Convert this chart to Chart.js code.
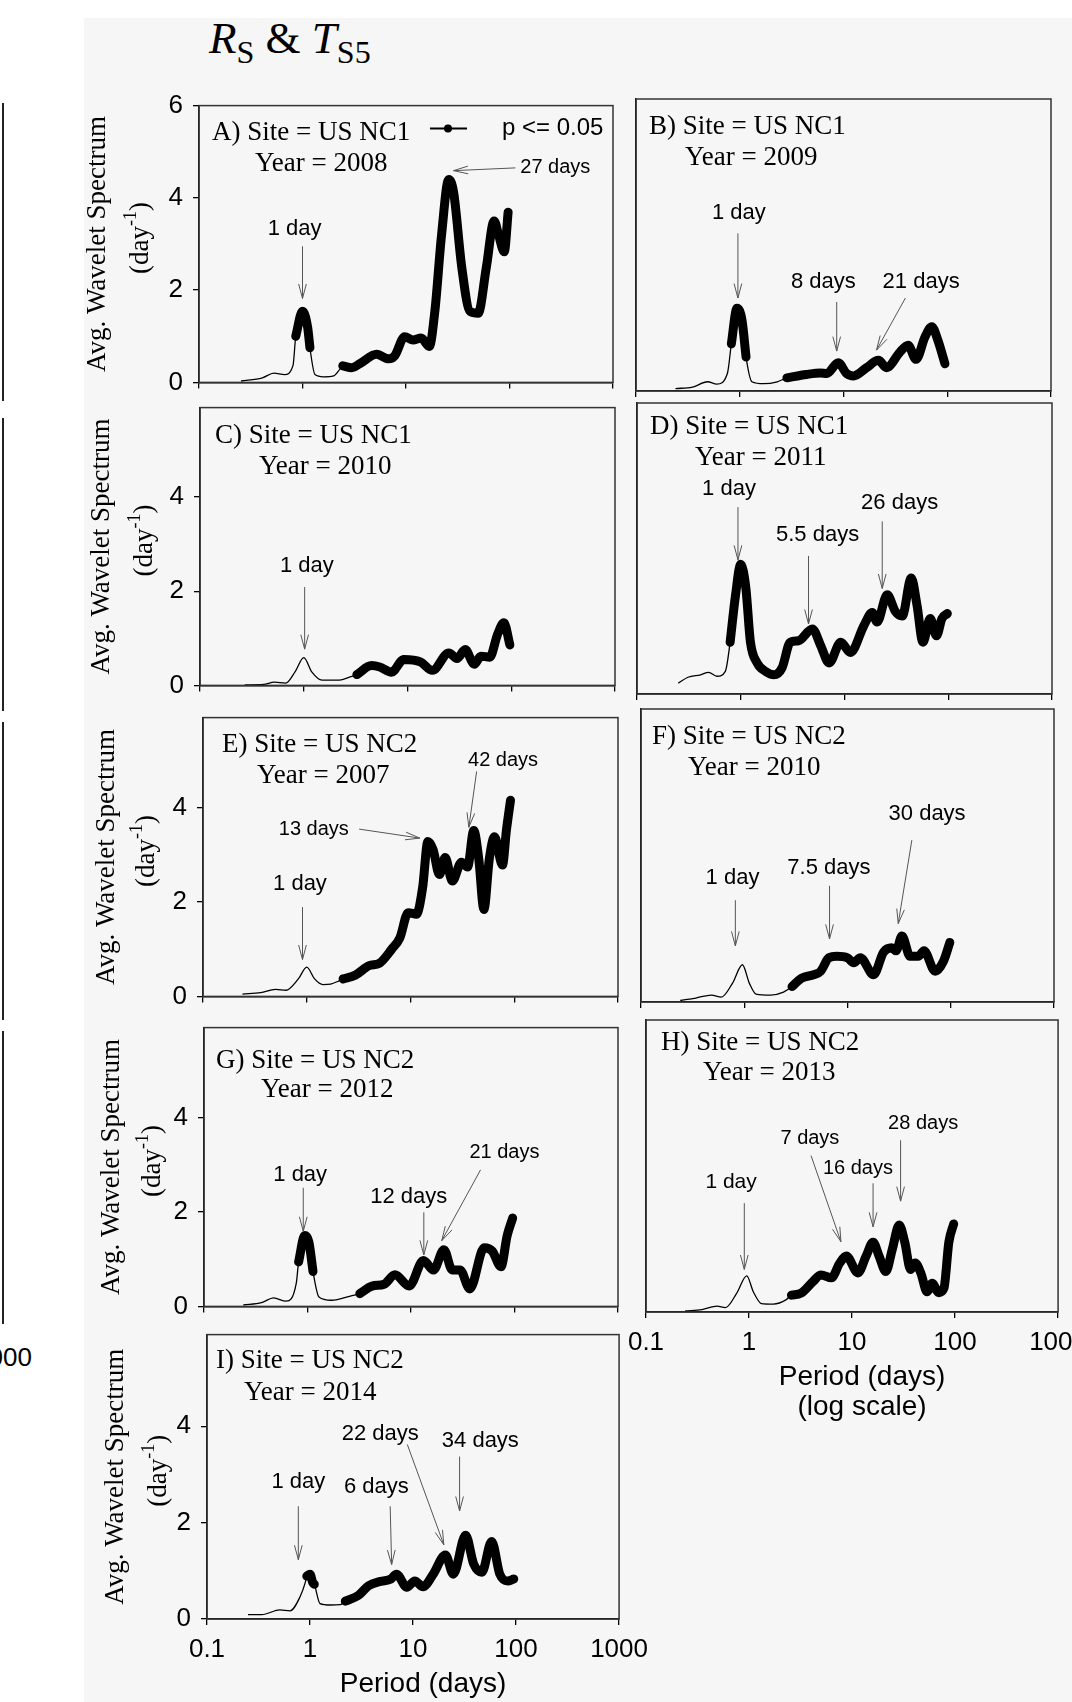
<!DOCTYPE html>
<html>
<head>
<meta charset="utf-8">
<script src="https://cdn.jsdelivr.net/npm/chart.js@4.4.0/dist/chart.umd.min.js"></script>
<style>
  body { margin: 0; width: 1072px; height: 1702px; overflow: hidden; position: relative; background: #fff; }
  #bg { position: absolute; left: 84px; top: 18px; right: 0; bottom: 0; background: #f6f6f6; }
  canvas { position: absolute; }
  .edge { position: absolute; left: 2px; width: 1.5px; background: #222; }
  #title { position: absolute; left: 209px; top: 16px; font: 45px/45px "Liberation Serif", "Times New Roman", serif; white-space: nowrap; color: #000; }
  #title .sub { font-size: 32px; position: relative; top: 10px; }
  #cut { position: absolute; left: -26px; top: 1342px; font: 26px "Liberation Sans", Arial, sans-serif; color: #000; }
</style>
</head>
<body>
<div id="bg"></div>
<div class="edge" style="top:103px;height:298px"></div>
<div class="edge" style="top:418px;height:293px"></div>
<div class="edge" style="top:722px;height:298px"></div>
<div class="edge" style="top:1031px;height:293px"></div>
<div id="cut">1000</div>
<div id="title"><i>R</i><span class="sub">S</span> &amp; <i>T</i><span class="sub">S5</span></div>
<script>
// shared ticks
const xTicks = [0.1, 1, 10, 100, 1000];
const yTicks = [0, 2, 4, 6];

// A) US NC1, 2008
const periodA = [0.255, 0.41, 0.53, 0.67, 0.81, 0.86, 1.0, 1.12, 1.18, 1.32, 1.59, 2.0, 2.32, 2.45, 3.0, 3.6, 5.2, 6.8, 7.8, 9.7, 11.7, 14, 16.8, 19, 22, 25.9, 28.8, 34.6, 41.5, 49.8, 59.7, 71, 79, 89, 97];
const powerA = [0.03, 0.1, 0.2, 0.17, 0.37, 1.0, 1.54, 1.2, 0.75, 0.17, 0.12, 0.14, 0.3, 0.36, 0.32, 0.41, 0.61, 0.51, 0.58, 0.99, 0.92, 0.96, 0.78, 1.54, 3.17, 4.4, 4.13, 2.49, 1.54, 1.5, 2.49, 3.5, 3.17, 2.83, 3.69];
const sigA = [0, 0, 0, 0, 0, 1, 1, 1, 1, 0, 0, 0, 0, 1, 1, 1, 1, 1, 1, 1, 1, 1, 1, 1, 1, 1, 1, 1, 1, 1, 1, 1, 1, 1, 1];

// B) US NC1, 2009
const periodB = [0.24, 0.35, 0.49, 0.6, 0.76, 0.83, 0.94, 1.05, 1.15, 1.31, 1.7, 2.3, 2.85, 4.4, 6.0, 6.9, 8.9, 10.7, 12.5, 16.7, 21.7, 26, 35, 42, 50, 61, 71, 81, 95];
const powerB = [0.05, 0.08, 0.19, 0.14, 0.36, 0.97, 1.7, 1.46, 0.7, 0.19, 0.15, 0.19, 0.27, 0.34, 0.37, 0.36, 0.58, 0.36, 0.31, 0.48, 0.63, 0.48, 0.8, 0.94, 0.65, 1.11, 1.32, 1.05, 0.56];
const sigB = [0, 0, 0, 0, 0, 1, 1, 1, 1, 0, 0, 0, 1, 1, 1, 1, 1, 1, 1, 1, 1, 1, 1, 1, 1, 1, 1, 1, 1];

// C) US NC1, 2010
const periodC = [0.27, 0.41, 0.52, 0.67, 0.83, 1.0, 1.2, 1.5, 2.2, 2.8, 3.25, 4.5, 5.4, 7.0, 9.2, 13.3, 17.4, 25, 30, 36, 44, 51, 62, 74, 85, 97];
const powerC = [0.01, 0.02, 0.07, 0.05, 0.3, 0.59, 0.28, 0.11, 0.11, 0.18, 0.23, 0.42, 0.39, 0.28, 0.55, 0.5, 0.32, 0.69, 0.57, 0.76, 0.45, 0.62, 0.6, 1.09, 1.33, 0.86];
const sigC = [0, 0, 0, 0, 0, 0, 0, 0, 0, 0, 1, 1, 1, 1, 1, 1, 1, 1, 1, 1, 1, 1, 1, 1, 1, 1];

// D) US NC1, 2011
const periodD = [0.25, 0.31, 0.41, 0.49, 0.59, 0.71, 0.79, 0.89, 1.0, 1.12, 1.24, 1.44, 1.73, 2.09, 2.5, 3.0, 3.6, 4.9, 5.9, 7.1, 9.2, 11.4, 15.4, 18.5, 20.6, 25.8, 31, 36, 44, 50, 57, 67, 77, 87, 98];
const powerD = [0.22, 0.34, 0.39, 0.44, 0.36, 0.46, 1.05, 2.0, 2.63, 2.15, 1.05, 0.63, 0.46, 0.39, 0.53, 1.05, 1.08, 1.32, 0.98, 0.63, 1.05, 0.84, 1.39, 1.65, 1.46, 2.01, 1.67, 1.58, 2.35, 1.8, 1.05, 1.53, 1.18, 1.53, 1.63];
const sigD = [0, 0, 0, 0, 0, 0, 1, 1, 1, 1, 1, 1, 1, 1, 1, 1, 1, 1, 1, 1, 1, 1, 1, 1, 1, 1, 1, 1, 1, 1, 1, 1, 1, 1, 1];

// E) US NC2, 2007
const periodE = [0.24, 0.36, 0.5, 0.63, 0.83, 1.0, 1.19, 1.43, 1.7, 2.05, 2.24, 2.94, 4.0, 5.0, 6.6, 7.9, 9.5, 11.4, 13.1, 14.7, 16.5, 19, 21.6, 25.3, 31, 35.5, 40.7, 45.5, 51, 57.5, 64.5, 77, 84, 92];
const powerE = [0.05, 0.08, 0.15, 0.13, 0.37, 0.62, 0.37, 0.25, 0.26, 0.33, 0.37, 0.45, 0.65, 0.7, 1.0, 1.24, 1.77, 1.74, 2.31, 3.28, 3.11, 2.58, 2.94, 2.44, 2.84, 2.74, 3.51, 2.91, 1.84, 2.91, 3.38, 2.78, 3.51, 4.15];
const sigE = [0, 0, 0, 0, 0, 0, 0, 0, 0, 0, 1, 1, 1, 1, 1, 1, 1, 1, 1, 1, 1, 1, 1, 1, 1, 1, 1, 1, 1, 1, 1, 1, 1, 1];

// F) US NC2, 2010
const periodF = [0.24, 0.34, 0.48, 0.6, 0.77, 0.96, 1.12, 1.3, 1.8, 2.4, 2.9, 3.6, 4.7, 5.5, 6.6, 7.9, 10, 11.5, 13.3, 17.9, 22.3, 26.8, 29.5, 33.7, 40.4, 48.6, 55, 70.6, 85, 98];
const powerF = [0.03, 0.08, 0.14, 0.1, 0.38, 0.75, 0.38, 0.16, 0.14, 0.2, 0.31, 0.48, 0.55, 0.62, 0.89, 0.92, 0.89, 0.79, 0.89, 0.55, 1.0, 1.09, 1.03, 1.33, 0.92, 0.92, 1.03, 0.62, 0.82, 1.2];
const sigF = [0, 0, 0, 0, 0, 0, 0, 0, 0, 0, 1, 1, 1, 1, 1, 1, 1, 1, 1, 1, 1, 1, 1, 1, 1, 1, 1, 1, 1, 1];

// G) US NC2, 2012
const periodG = [0.24, 0.36, 0.47, 0.62, 0.78, 0.82, 0.94, 1.03, 1.13, 1.29, 1.7, 2.7, 3.2, 4.2, 5.5, 7.0, 9.6, 13.2, 16.5, 20.8, 25, 29.8, 37, 51, 61, 74, 85, 96];
const powerG = [0.03, 0.08, 0.18, 0.11, 0.5, 0.94, 1.5, 1.37, 0.74, 0.2, 0.13, 0.23, 0.27, 0.43, 0.47, 0.67, 0.43, 0.97, 0.77, 1.2, 0.77, 0.77, 0.37, 1.24, 1.17, 0.84, 1.5, 1.87];
const sigG = [0, 0, 0, 0, 0, 1, 1, 1, 1, 0, 0, 0, 1, 1, 1, 1, 1, 1, 1, 1, 1, 1, 1, 1, 1, 1, 1, 1];

// H) US NC2, 2013
const periodH = [0.24, 0.35, 0.49, 0.59, 0.76, 0.95, 1.1, 1.32, 1.72, 2.3, 2.58, 3.2, 4.2, 5.0, 6.3, 7.6, 8.8, 11.4, 13.7, 16, 18.3, 21.3, 24.6, 28.7, 32.5, 37, 41, 46.5, 53.5, 60, 69.5, 78, 87, 97];
const powerH = [0.02, 0.05, 0.12, 0.09, 0.38, 0.73, 0.41, 0.17, 0.16, 0.25, 0.34, 0.38, 0.62, 0.75, 0.69, 0.99, 1.13, 0.79, 1.13, 1.41, 1.13, 0.82, 1.27, 1.76, 1.41, 0.86, 0.99, 0.79, 0.41, 0.58, 0.39, 0.48, 1.41, 1.78];
const sigH = [0, 0, 0, 0, 0, 0, 0, 0, 0, 0, 1, 1, 1, 1, 1, 1, 1, 1, 1, 1, 1, 1, 1, 1, 1, 1, 1, 1, 1, 1, 1, 1, 1, 1];

// I) US NC2, 2014
const periodI = [0.25, 0.34, 0.51, 0.64, 0.8, 0.9, 0.93, 1.0, 1.06, 1.1, 1.25, 1.57, 1.97, 2.2, 2.95, 3.7, 4.85, 6.1, 6.9, 8.7, 10.4, 12.5, 15.7, 20.6, 24.6, 32.4, 38.8, 46.5, 58, 69.5, 83, 95];
const powerI = [0.09, 0.09, 0.19, 0.17, 0.46, 0.76, 0.89, 0.93, 0.76, 0.72, 0.32, 0.29, 0.3, 0.37, 0.49, 0.69, 0.78, 0.83, 0.93, 0.66, 0.79, 0.67, 0.93, 1.33, 0.93, 1.74, 1.14, 0.97, 1.61, 0.93, 0.79, 0.83];
const sigI = [0, 0, 0, 0, 0, 0, 1, 1, 1, 1, 0, 0, 0, 1, 1, 1, 1, 1, 1, 1, 1, 1, 1, 1, 1, 1, 1, 1, 1, 1, 1, 1];

// peak labels: label centre and arrow tail/head, in (period, spectrum) units
const notesA = [
  { text: '1 day', at: [0.84, 3.33], from: [1.0, 2.95], to: [1.0, 1.82], size: 22 },
  { text: '27 days', at: [277, 4.65], from: [114, 4.65], to: [28.8, 4.59], size: 20 }
];
const notesB = [
  { text: '1 day', at: [0.98, 3.66], from: [0.96, 3.24], to: [0.96, 1.91], size: 22 },
  { text: '8 days', at: [6.4, 2.24], from: [8.6, 1.83], to: [8.6, 0.82], size: 22 },
  { text: '21 days', at: [56, 2.24], from: [39.5, 1.91], to: [20.8, 0.84], size: 22 }
];
const notesC = [
  { text: '1 day', at: [1.07, 2.54], from: [1.02, 2.09], to: [1.02, 0.77], size: 22 }
];
const notesD = [
  { text: '1 day', at: [0.77, 4.16], from: [0.94, 3.79], to: [0.94, 2.72], size: 22 },
  { text: '5.5 days', at: [5.5, 3.22], from: [4.5, 2.8], to: [4.5, 1.42], size: 22 },
  { text: '26 days', at: [34, 3.88], from: [23.1, 3.5], to: [23.1, 2.14], size: 22 }
];
const notesE = [
  { text: '1 day', at: [0.86, 2.39], from: [0.91, 1.89], to: [0.91, 0.78], size: 22 },
  { text: '13 days', at: [1.17, 3.54], from: [3.2, 3.54], to: [12.3, 3.35], size: 20 },
  { text: '42 days', at: [78, 5.0], from: [43.4, 4.76], to: [36.5, 3.58], size: 20 }
];
const notesF = [
  { text: '1 day', at: [0.77, 2.5], from: [0.82, 2.05], to: [0.82, 1.13], size: 22 },
  { text: '7.5 days', at: [6.6, 2.7], from: [6.7, 2.34], to: [6.7, 1.27], size: 22 },
  { text: '30 days', at: [59, 3.79], from: [42, 3.26], to: [31, 1.58], size: 22 }
];
const notesG = [
  { text: '1 day', at: [0.85, 2.79], from: [0.91, 2.51], to: [0.91, 1.59], size: 22 },
  { text: '12 days', at: [9.5, 2.31], from: [13.3, 1.99], to: [13.3, 1.09], size: 22 },
  { text: '21 days', at: [80, 3.26], from: [47, 2.89], to: [19.8, 1.39], size: 20 }
];
const notesH = [
  { text: '1 day', at: [0.67, 2.63], from: [0.9, 2.2], to: [0.9, 0.86], size: 21 },
  { text: '7 days', at: [3.9, 3.51], from: [4.0, 3.16], to: [7.8, 1.42], size: 20 },
  { text: '16 days', at: [11.4, 2.9], from: [16, 2.6], to: [16, 1.72], size: 20 },
  { text: '28 days', at: [49, 3.8], from: [29.6, 3.47], to: [29.6, 2.24], size: 20 }
];
const notesI = [
  { text: '1 day', at: [0.77, 2.85], from: [0.77, 2.34], to: [0.77, 1.23], size: 22 },
  { text: '6 days', at: [4.4, 2.75], from: [6.0, 2.34], to: [6.2, 1.13], size: 22 },
  { text: '22 days', at: [4.8, 3.84], from: [8.8, 3.62], to: [19.9, 1.54], size: 22 },
  { text: '34 days', at: [45, 3.7], from: [28.3, 3.37], to: [28.3, 2.24], size: 22 }
];

const SERIF = "'Liberation Serif', 'Times New Roman', serif";
const SANS = "'Liberation Sans', Arial, sans-serif";

Chart.defaults.font.family = SANS;
Chart.defaults.font.size = 26;
Chart.defaults.color = '#000';

// plot rectangles [left, top, right, bottom] in page pixels
const panels = [
  { rect: [199, 98, 613, 388], yMax: 6, col: 0, site: 'A) Site = US NC1', year: 'Year = 2008', siteAt: [13, 27], yearAt: [56, 58], yTitle: [101, 58], legend: true, period: periodA, power: powerA, sig: sigA, notes: notesA },
  { rect: [636, 99, 1051, 391], yMax: 6, col: 1, site: 'B) Site = US NC1', year: 'Year = 2009', siteAt: [13, 28], yearAt: [49, 59], period: periodB, power: powerB, sig: sigB, notes: notesB },
  { rect: [200, 400, 615, 691], yMax: 5.9, col: 0, site: 'C) Site = US NC1', year: 'Year = 2010', siteAt: [15, 28], yearAt: [59, 59], yTitle: [98, 55], period: periodC, power: powerC, sig: sigC, notes: notesC },
  { rect: [637, 403, 1052, 694], yMax: 5.9, col: 1, site: 'D) Site = US NC1', year: 'Year = 2011', siteAt: [13, 24], yearAt: [58, 55], period: periodD, power: powerD, sig: sigD, notes: notesD },
  { rect: [203, 710, 618, 1002], yMax: 5.9, col: 0, site: 'E) Site = US NC2', year: 'Year = 2007', siteAt: [19, 27], yearAt: [54, 58], yTitle: [96, 56], period: periodE, power: powerE, sig: sigE, notes: notesE },
  { rect: [641, 709, 1054, 1002], yMax: 5.9, col: 1, site: 'F) Site = US NC2', year: 'Year = 2010', siteAt: [11, 28], yearAt: [47, 59], period: periodF, power: powerF, sig: sigF, notes: notesF },
  { rect: [204, 1020, 618, 1312], yMax: 5.9, col: 0, site: 'G) Site = US NC2', year: 'Year = 2012', siteAt: [12, 33], yearAt: [57, 62], yTitle: [92, 51], period: periodG, power: powerG, sig: sigG, notes: notesG },
  { rect: [646, 1020, 1060, 1312], yMax: 5.9, col: 1, site: 'H) Site = US NC2', year: 'Year = 2013', siteAt: [15, 23], yearAt: [57, 53], xTitle: ['Period (days)', '(log scale)'], bottomH: 110, period: periodH, power: powerH, sig: sigH, notes: notesH },
  { rect: [207, 1327, 621, 1619], yMax: 5.9, col: 0, site: 'I) Site = US NC2', year: 'Year = 2014', siteAt: [9, 26], yearAt: [37, 58], yTitle: [91, 48], xTitle: ['Period (days)'], bottomH: 82, period: periodI, power: powerI, sig: sigI, notes: notesI }
];

function drawArrow(ctx, x1, y1, x2, y2) {
  const a = Math.atan2(y2 - y1, x2 - x1);
  const len = 15, spread = 0.26;
  ctx.beginPath();
  ctx.moveTo(x1, y1);
  ctx.lineTo(x2, y2);
  ctx.moveTo(x2 - len * Math.cos(a - spread), y2 - len * Math.sin(a - spread));
  ctx.lineTo(x2, y2);
  ctx.lineTo(x2 - len * Math.cos(a + spread), y2 - len * Math.sin(a + spread));
  ctx.stroke();
}

const panelDecor = {
  id: 'panelDecor',
  afterDatasetsDraw(chart, args, opts) {
    const p = opts.panel;
    const { ctx, chartArea: a } = chart;
    const xs = chart.scales.x, ys = chart.scales.y;
    ctx.save();

    // frame round the plot
    ctx.strokeStyle = '#333';
    ctx.lineWidth = 1.5;
    ctx.strokeRect(a.left, a.top, a.right - a.left, a.bottom - a.top);

    // site and year
    ctx.fillStyle = '#000';
    ctx.font = '27px ' + SERIF;
    ctx.textAlign = 'left';
    ctx.textBaseline = 'middle';
    ctx.fillText(p.site, a.left + p.siteAt[0], a.top + p.siteAt[1]);
    ctx.fillText(p.year, a.left + p.yearAt[0], a.top + p.yearAt[1]);

    // peak labels with arrows
    p.notes.forEach(n => {
      ctx.font = n.size + 'px ' + SANS;
      ctx.textAlign = 'center';
      ctx.fillStyle = '#000';
      ctx.fillText(n.text, xs.getPixelForValue(n.at[0]), ys.getPixelForValue(n.at[1]));
      ctx.strokeStyle = '#555';
      ctx.lineWidth = 1;
      drawArrow(ctx,
        xs.getPixelForValue(n.from[0]), ys.getPixelForValue(n.from[1]),
        xs.getPixelForValue(n.to[0]), ys.getPixelForValue(n.to[1]));
    });

    // legend (panel A only)
    if (p.legend) {
      const ly = a.top + 23;
      ctx.strokeStyle = '#000';
      ctx.lineWidth = 2;
      ctx.beginPath();
      ctx.moveTo(a.left + 231, ly);
      ctx.lineTo(a.left + 268, ly);
      ctx.stroke();
      ctx.beginPath();
      ctx.arc(a.left + 249, ly, 4, 0, Math.PI * 2);
      ctx.fill();
      ctx.font = '24px ' + SANS;
      ctx.textAlign = 'left';
      ctx.fillText('p <= 0.05', a.left + 303, ly);
    }

    // x axis title below the tick labels
    if (p.xTitle) {
      ctx.font = '28px ' + SANS;
      ctx.textAlign = 'center';
      p.xTitle.forEach((line, i) => {
        ctx.fillText(line, (a.left + a.right) / 2 + 10, a.bottom + 65 + i * 30);
      });
    }

    // y axis title, two rotated lines
    if (p.yTitle) {
      const yc = (a.top + a.bottom) / 2;
      ctx.save();
      ctx.translate(a.left - p.yTitle[0], yc);
      ctx.rotate(-Math.PI / 2);
      ctx.font = '27px ' + SERIF;
      ctx.textAlign = 'center';
      ctx.fillText('Avg. Wavelet Spectrum', 0, 0);
      ctx.restore();

      ctx.save();
      ctx.translate(a.left - p.yTitle[1], yc - 6);
      ctx.rotate(-Math.PI / 2);
      ctx.textAlign = 'left';
      ctx.font = '27px ' + SERIF;
      const w1 = ctx.measureText('(day').width;
      const w3 = ctx.measureText(')').width;
      ctx.font = '18px ' + SERIF;
      const w2 = ctx.measureText('-1').width;
      const x0 = -(w1 + w2 + w3) / 2;
      ctx.font = '27px ' + SERIF;
      ctx.fillText('(day', x0, 0);
      ctx.font = '18px ' + SERIF;
      ctx.fillText('-1', x0 + w1, -10);
      ctx.font = '27px ' + SERIF;
      ctx.fillText(')', x0 + w1 + w2, 0);
      ctx.restore();
    }
    ctx.restore();
  }
};

panels.forEach(p => {
  const [l, t, r, b] = p.rect;
  const showX = !!p.xTitle;
  const showY = p.col === 0;
  const padL = showY ? l - 70 : (showX ? 44 : 12);
  const padT = 18;
  const padR = showX ? 36 : 12;
  const bottomH = p.bottomH || 20;

  const canvas = document.createElement('canvas');
  canvas.width = padL + (r - l) + padR;
  canvas.height = padT + (b - t) + bottomH;
  canvas.style.left = (l - padL) + 'px';
  canvas.style.top = (t - padT) + 'px';
  document.body.appendChild(canvas);

  const thin = p.period.map((x, i) => ({ x: x, y: p.power[i] }));
  const thick = p.period.map((x, i) => ({ x: x, y: p.sig[i] ? p.power[i] : null }));

  new Chart(canvas, {
    type: 'line',
    data: {
      datasets: [
        { data: thin, borderColor: '#000', borderWidth: 1.3, pointRadius: 0, cubicInterpolationMode: 'monotone' },
        { data: thick, borderColor: '#000', borderWidth: 9, pointRadius: 0, cubicInterpolationMode: 'monotone',
          spanGaps: false, borderCapStyle: 'round', borderJoinStyle: 'round' }
      ]
    },
    options: {
      responsive: false,
      animation: false,
      events: [],
      layout: { padding: { left: 0, top: padT, right: padR, bottom: 0 } },
      plugins: {
        legend: { display: false },
        tooltip: { enabled: false },
        panelDecor: { panel: p }
      },
      scales: {
        x: {
          type: 'logarithmic',
          min: 0.1,
          max: 1000,
          afterBuildTicks: s => { s.ticks = xTicks.map(v => ({ value: v })); },
          afterFit: s => { s.height = bottomH; },
          ticks: { display: showX, padding: 9, callback: v => String(v), maxRotation: 0 },
          grid: { drawOnChartArea: false, drawTicks: true, tickLength: 6, color: '#000', lineWidth: 1.3 },
          border: { display: true, color: '#000', width: 1.5 }
        },
        y: {
          min: 0,
          max: p.yMax,
          afterBuildTicks: s => { s.ticks = yTicks.filter(v => v <= p.yMax).map(v => ({ value: v })); },
          afterFit: s => { s.width = padL; },
          ticks: { display: showY, padding: 10, callback: v => String(v) },
          grid: { display: showY, drawOnChartArea: false, drawTicks: true, tickLength: 6, color: '#000', lineWidth: 1.3 },
          border: { display: true, color: '#000', width: 1.5 }
        }
      }
    },
    plugins: [panelDecor]
  });
});
</script>
</body>
</html>
